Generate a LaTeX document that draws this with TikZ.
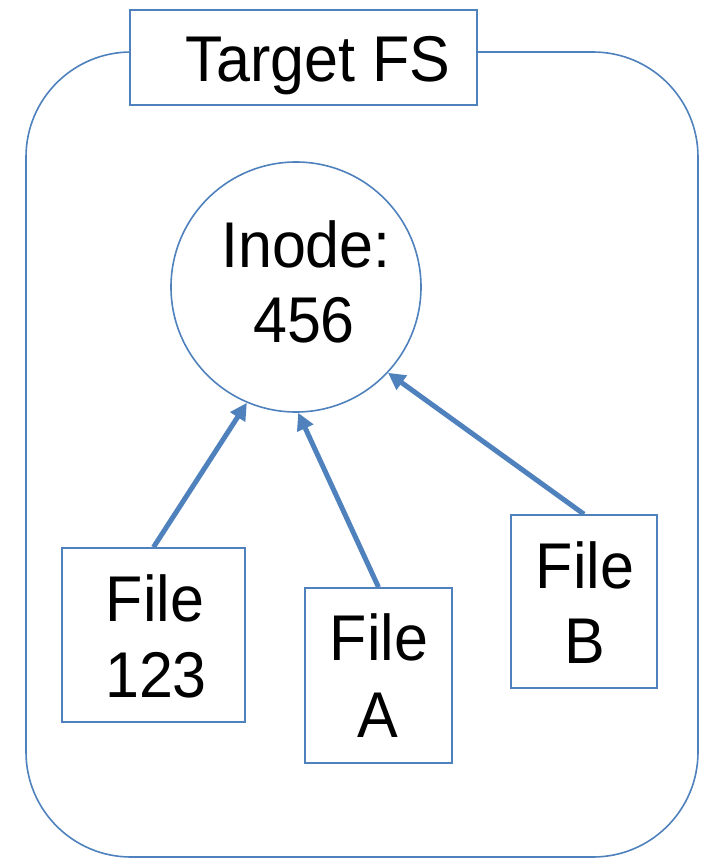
\documentclass[tikz,border=0pt]{standalone}
\usepackage{fontspec}
\setmainfont{Liberation Sans}
\usetikzlibrary{arrows.meta}
\definecolor{ppblue}{HTML}{4F81BD}
\newcommand{\tallt}[1]{\scalebox{1}[1.06]{#1}}
\begin{document}
\begin{tikzpicture}[x=1pt,y=-1pt,
  frame/.style={draw=ppblue, line width=1.6pt, fill=white, inner sep=0pt},
  lbl/.style={anchor=base, inner sep=0pt, font=\fontsize{61}{73}\selectfont},
  arr/.style={draw=ppblue, line width=5pt, -{Triangle[length=17pt,width=17pt]}}]
\useasboundingbox (0,0) rectangle (705,860);
\draw[ppblue, line width=1.6pt, rounded corners=105pt] (26,52) rectangle (698,857);
% title
\node[frame, minimum width=347pt, minimum height=95pt] (title) at (303.5,57.5) {};
\node[lbl] (titletxt) at (318,81) {\tallt{Target FS}};
% inode circle
\node[frame, circle, minimum size=250pt] (inode) at (296,287) {};
\node[lbl] (inode1) at (306,267) {\tallt{Inode:}};
\node[lbl] (inode2) at (304,342) {\tallt{456}};
% files
\node[frame, minimum width=183pt, minimum height=174pt] (f123) at (153.5,635) {};
\node[lbl] (f123a) at (155,621) {\tallt{File}};
\node[lbl] (f123b) at (156,697) {\tallt{123}};
\node[frame, minimum width=147pt, minimum height=175pt] (fA) at (378.5,675.5) {};
\node[lbl] (fAa) at (379,660) {\tallt{File}};
\node[lbl] (fAb) at (378,737) {\tallt{A}};
\node[frame, minimum width=146pt, minimum height=173pt] (fB) at (584,601.5) {};
\node[lbl] (fBa) at (585,588) {\tallt{File}};
\node[lbl] (fBb) at (585,663) {\tallt{B}};
% arrows
\draw[arr] (f123.north) -- (inode.-113);
\draw[arr] (fA.north) -- (inode.-89);
\draw[arr] (fB.north) -- (inode.-43);
\end{tikzpicture}
\end{document}
